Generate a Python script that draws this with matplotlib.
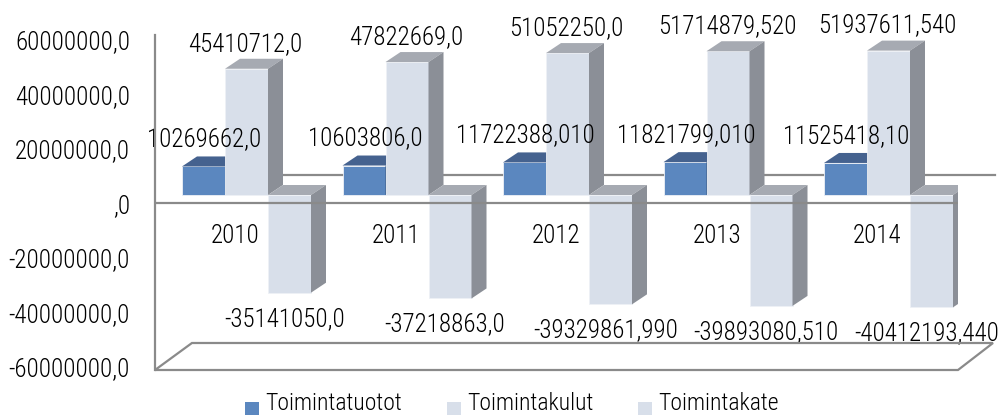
import matplotlib
matplotlib.use("Agg")
import matplotlib.pyplot as plt
from matplotlib.patches import Polygon, Rectangle
from matplotlib import font_manager as fm

years = ["2010", "2011", "2012", "2013", "2014"]
series_names = ["Toimintatuotot", "Toimintakulut", "Toimintakate"]
toimintatuotot = [10269662.0, 10603806.0, 11722388.010, 11821799.010, 11525418.10]
toimintakulut = [45410712.0, 47822669.0, 51052250.0, 51714879.520, 51937611.540]
toimintakate = [-35141050.0, -37218863.0, -39329861.990, -39893080.510, -40412193.440]
label_tuotot = ["10269662,0", "10603806,0", "11722388,010", "11821799,010", "11525418,10"]
label_kulut = ["45410712,0", "47822669,0", "51052250,0", "51714879,520", "51937611,540"]
label_kate = ["-35141050,0", "-37218863,0", "-39329861,990", "-39893080,510", "-40412193,440"]
yticks = [-60000000, -40000000, -20000000, 0, 20000000, 40000000, 60000000]
ytick_labels = ["-60000000,0", "-40000000,0", "-20000000,0", ",0",
                "20000000,0", "40000000,0", "60000000,0"]

family = "DejaVu Sans"
for cand in ["Liberation Sans Narrow", "Roboto Condensed", "Liberation Sans"]:
    try:
        fm.findfont(fm.FontProperties(family=cand), fallback_to_default=False)
        family = cand
        break
    except Exception:
        pass
plt.rcParams['font.family'] = [family, "DejaVu Sans"]
plt.rcParams['font.weight'] = "light"
FS = 18

W, H = 1000, 417
fig = plt.figure(figsize=(W / 100, H / 100), dpi=100)

left_px, right_px, top_px, bot_px = 155, 958, 35, 370
pos = [left_px / W, (H - bot_px) / H, (right_px - left_px) / W, (bot_px - top_px) / H]

# bars axes (plane of bars)
axb = fig.add_axes(pos, zorder=1)
axb.set_facecolor("none")
scale_b = 2.78e-6  # px per unit
zero_b = 195
axb.set_ylim(-(bot_px - zero_b) / scale_b, (zero_b - top_px) / scale_b)
grp = 160.5
xmin = -(246.5 - left_px) / grp
axb.set_xlim(xmin, xmin + (right_px - left_px) / grp)
axb.axis("off")

# frame axes (front plane)
ax = fig.add_axes(pos, zorder=2)
ax.set_facecolor("none")
ax.set_ylim(-61.2e6, 61.8e6)
ax.set_xlim(0, 1)
ax.set_yticks(yticks)
ax.set_yticklabels(ytick_labels, fontsize=FS)
ax.tick_params(axis="y", length=0, pad=18)
ax.set_xticks([])
for s in ["top", "right", "bottom"]:
    ax.spines[s].set_visible(False)
grey = "#8a8a8a"
ax.spines["left"].set_color(grey)
ax.spines["left"].set_linewidth(1.6)

# back wall zero line (behind bars)
axb.plot([0.046, 1.046], [0.582, 0.582], transform=axb.transAxes, color=grey,
         lw=1.6, clip_on=False, zorder=0)

# front zero line and floor
ax.axhline(0, color=grey, lw=1.6, zorder=5)
floor = Polygon([[0, 0], [1, 0], [1.0436, 0.0806], [0.046, 0.0806]], closed=True,
                transform=ax.transAxes, fill=False, edgecolor=grey, lw=1.6, clip_on=False)
ax.add_patch(floor)

w = 43 / grp
dx = 15 / grp
dy = 10 / scale_b

styles = [
    dict(front="#5B87BF", top="#45628F", side="#3F5A83"),
    dict(front="#D8DFEA", top="#A6AAB2", side="#8B8F97"),
    dict(front="#D8DFEA", top="#A6AAB2", side="#8B8F97"),
]
all_series = [toimintatuotot, toimintakulut, toimintakate]

for i in range(len(years)):
    for k, vals in enumerate(all_series):
        v = vals[i]
        xc = i + (k - 1) * w
        st = styles[k]
        axb.bar(xc, v, width=w, color=st["front"], edgecolor="#EEF1F6", linewidth=0.6,
                zorder=2 + k + 3 * i)
        x0, x1 = xc - w / 2, xc + w / 2
        t = max(v, 0)
        b = min(v, 0)
        top = Polygon([[x0, t], [x1, t], [x1 + dx, t + dy], [x0 + dx, t + dy]],
                      closed=True, facecolor=st["top"], edgecolor="none", zorder=2 + k + 3 * i)
        side = Polygon([[x1, b], [x1, t], [x1 + dx, t + dy], [x1 + dx, b + dy]],
                       closed=True, facecolor=st["side"], edgecolor="none", zorder=2 + k + 3 * i)
        axb.add_patch(top)
        axb.add_patch(side)

    axb.annotate(label_tuotot[i], (i - w, toimintatuotot[i]), xytext=(1, 27),
                 textcoords="offset pixels", ha="center", va="center", fontsize=FS, zorder=30)
    axb.annotate(label_kulut[i], (i, toimintakulut[i]), xytext=(-1, 25),
                 textcoords="offset pixels", ha="center", va="center", fontsize=FS, zorder=30)
    axb.annotate(label_kate[i], (i + w, toimintakate[i]), xytext=(-5, -26),
                 textcoords="offset pixels", ha="center", va="center", fontsize=FS, zorder=30)
    axb.annotate(years[i], (i, 0), xytext=(-11, -41), textcoords="offset pixels",
                 ha="center", va="center", fontsize=FS, zorder=30)

# legend
leg_y = 404
marker_x = [245, 447, 638]
for k, name in enumerate(series_names):
    fig.patches.append(Rectangle((marker_x[k] / W, (H - 415) / H), 14 / W, 13 / H,
                                 transform=fig.transFigure, facecolor=styles[k]["front"],
                                 edgecolor="none"))
    fig.text((marker_x[k] + 20) / W, (H - leg_y) / H, name, fontsize=17,
             ha="left", va="center")

fig.savefig("out.png", dpi=100)
